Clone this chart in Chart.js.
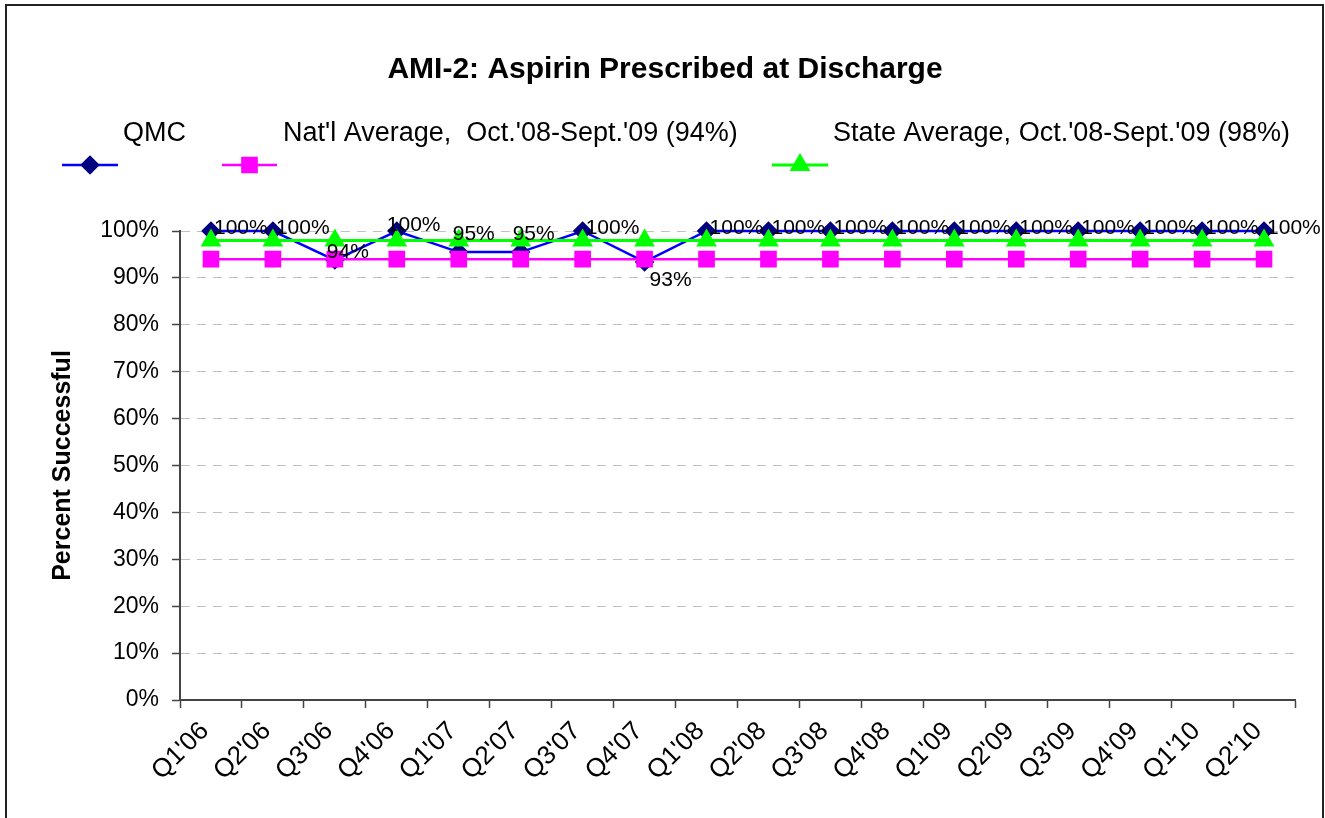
<!DOCTYPE html>
<html>
<head>
<meta charset="utf-8">
<script src="https://cdn.jsdelivr.net/npm/chart.js@4.4.1/dist/chart.umd.min.js"></script>
<style>
  html, body { margin: 0; padding: 0; background: #fff; }
  #wrap { width: 1325px; height: 818px; position: relative; }
</style>
</head>
<body>
<div id="wrap"><canvas id="chart"></canvas></div>
<script>
// data
const quarters = ["Q1'06", "Q2'06", "Q3'06", "Q4'06", "Q1'07", "Q2'07", "Q3'07", "Q4'07", "Q1'08",
  "Q2'08", "Q3'08", "Q4'08", "Q1'09", "Q2'09", "Q3'09", "Q4'09", "Q1'10", "Q2'10"];
const qmcValues = [100, 100, 93.8, 100, 95.5, 95.5, 100, 93.4, 100, 100, 100, 100, 100, 100, 100, 100, 100, 100];
const qmcLabels = ['100%', '100%', '94%', '100%', '95%', '95%', '100%', '93%', '100%',
  '100%', '100%', '100%', '100%', '100%', '100%', '100%', '100%', '100%'];
const natlValues = quarters.map(() => 94);
const stateValues = quarters.map(() => 98);
const yTicks = [0, 10, 20, 30, 40, 50, 60, 70, 80, 90, 100];

const FONT = "'Liberation Sans', Arial, Helvetica, sans-serif";

// where each QMC data label sits relative to its point (dx, dy)
const labelOffsets = quarters.map(() => [3, -3]);
labelOffsets[2] = [-8, -8];
labelOffsets[3] = [-10, -6];
labelOffsets[4] = [-6, -18];
labelOffsets[5] = [-8, -18];
labelOffsets[7] = [5, 18];

// legend slots: line start/end, text x
const legendSlots = [
  { x0: 62, x1: 118, tx: 123 },
  { x0: 222, x1: 277, tx: 283 },
  { x0: 772, x1: 828, tx: 833 }
];

const decorPlugin = {
  id: 'decor',
  beforeDraw(chart) {
    const ctx = chart.ctx;
    ctx.save();
    ctx.fillStyle = '#fff';
    ctx.fillRect(0, 0, chart.width, chart.height);
    ctx.strokeStyle = '#222';
    ctx.lineWidth = 2;
    ctx.strokeRect(6, 5, 1317, 900);
    ctx.restore();
  },
  afterDraw(chart) {
    const ctx = chart.ctx;
    ctx.save();
    // title
    ctx.fillStyle = '#000';
    ctx.font = 'bold 30px ' + FONT;
    ctx.textAlign = 'center';
    ctx.textBaseline = 'middle';
    ctx.fillText('AMI-2: Aspirin Prescribed at Discharge', 665, 70);

    // legend
    chart.data.datasets.forEach((ds, i) => {
      const s = legendSlots[i];
      ctx.font = '27px ' + FONT;
      ctx.textAlign = 'left';
      ctx.fillStyle = '#000';
      ctx.fillText(ds.label, s.tx, 134);
      ctx.strokeStyle = ds.borderColor;
      ctx.lineWidth = ds.borderWidth;
      ctx.beginPath();
      ctx.moveTo(s.x0, 165);
      ctx.lineTo(s.x1, 165);
      ctx.stroke();
      ctx.fillStyle = ds.pointBackgroundColor;
      ctx.strokeStyle = ds.pointBorderColor;
      Chart.helpers.drawPoint(ctx, {
        pointStyle: ds.pointStyle, radius: ds.pointRadius, borderWidth: 1, rotation: 0
      }, (s.x0 + s.x1) / 2, 165);
    });

    // QMC data labels
    const meta = chart.getDatasetMeta(0);
    ctx.font = '21px ' + FONT;
    ctx.fillStyle = '#000';
    ctx.textAlign = 'left';
    ctx.textBaseline = 'middle';
    meta.data.forEach((pt, i) => {
      const [dx, dy] = labelOffsets[i];
      ctx.fillText(qmcLabels[i], pt.x + dx, pt.y + dy);
    });
    ctx.restore();
  }
};

new Chart(document.getElementById('chart'), {
  type: 'line',
  data: {
    labels: quarters,
    datasets: [
      {
        label: 'QMC',
        data: qmcValues,
        borderColor: '#0000ff',
        borderWidth: 2.5,
        pointStyle: 'rectRot',
        pointRadius: 8,
        pointBackgroundColor: '#000080',
        pointBorderColor: '#000080',
        order: 3,
        clip: false
      },
      {
        label: "Nat'l Average,  Oct.'08-Sept.'09 (94%)",
        data: natlValues,
        borderColor: '#ff00ff',
        borderWidth: 2.5,
        pointStyle: 'rect',
        pointRadius: 10,
        pointBackgroundColor: '#ff00ff',
        pointBorderColor: '#ff00ff',
        order: 2,
        clip: false
      },
      {
        label: "State Average, Oct.'08-Sept.'09 (98%)",
        data: stateValues,
        borderColor: '#00ff00',
        borderWidth: 3,
        pointStyle: 'triangle',
        pointRadius: 9,
        pointBackgroundColor: '#00ff00',
        pointBorderColor: '#00ff00',
        order: 1,
        clip: false
      }
    ]
  },
  options: {
    responsive: true,
    maintainAspectRatio: false,
    animation: false,
    devicePixelRatio: 1,
    elements: { line: { tension: 0 } },
    layout: { padding: { top: 231, right: 30, bottom: 0, left: 6 } },
    plugins: {
      legend: { display: false },
      title: { display: false },
      tooltip: { enabled: false }
    },
    scales: {
      x: {
        type: 'category',
        offset: true,
        grid: {
          offset: true,
          drawOnChartArea: false,
          drawTicks: true,
          tickLength: 8,
          tickColor: '#444',
          tickWidth: 1.5
        },
        border: { color: '#444', width: 2 },
        ticks: {
          color: '#000',
          font: { family: FONT, size: 26 },
          minRotation: 45,
          maxRotation: 45,
          autoSkip: false,
          padding: 8,
          labelOffset: -6
        },
        afterFit(scale) { scale.height = 118; }
      },
      y: {
        min: 0,
        max: 100,
        afterBuildTicks(scale) { scale.ticks = yTicks.map(v => ({ value: v })); },
        grid: {
          color: '#c0c0c0',
          lineWidth: 1,
          tickColor: '#444',
          tickWidth: 1.5,
          tickLength: 8,
          tickBorderDash: [],
          drawTicks: true
        },
        border: { color: '#444', width: 2, dash: [9, 7] },
        ticks: {
          color: '#000',
          font: { family: FONT, size: 23 },
          padding: 13,
          callback: v => v + '%'
        },
        title: {
          display: true,
          text: 'Percent Successful',
          color: '#000',
          font: { family: FONT, size: 25, weight: 'bold' },
          padding: { top: 42, bottom: 0 }
        },
        afterFit(scale) { scale.width = 174; }
      }
    }
  },
  plugins: [decorPlugin]
});
</script>
</body>
</html>
